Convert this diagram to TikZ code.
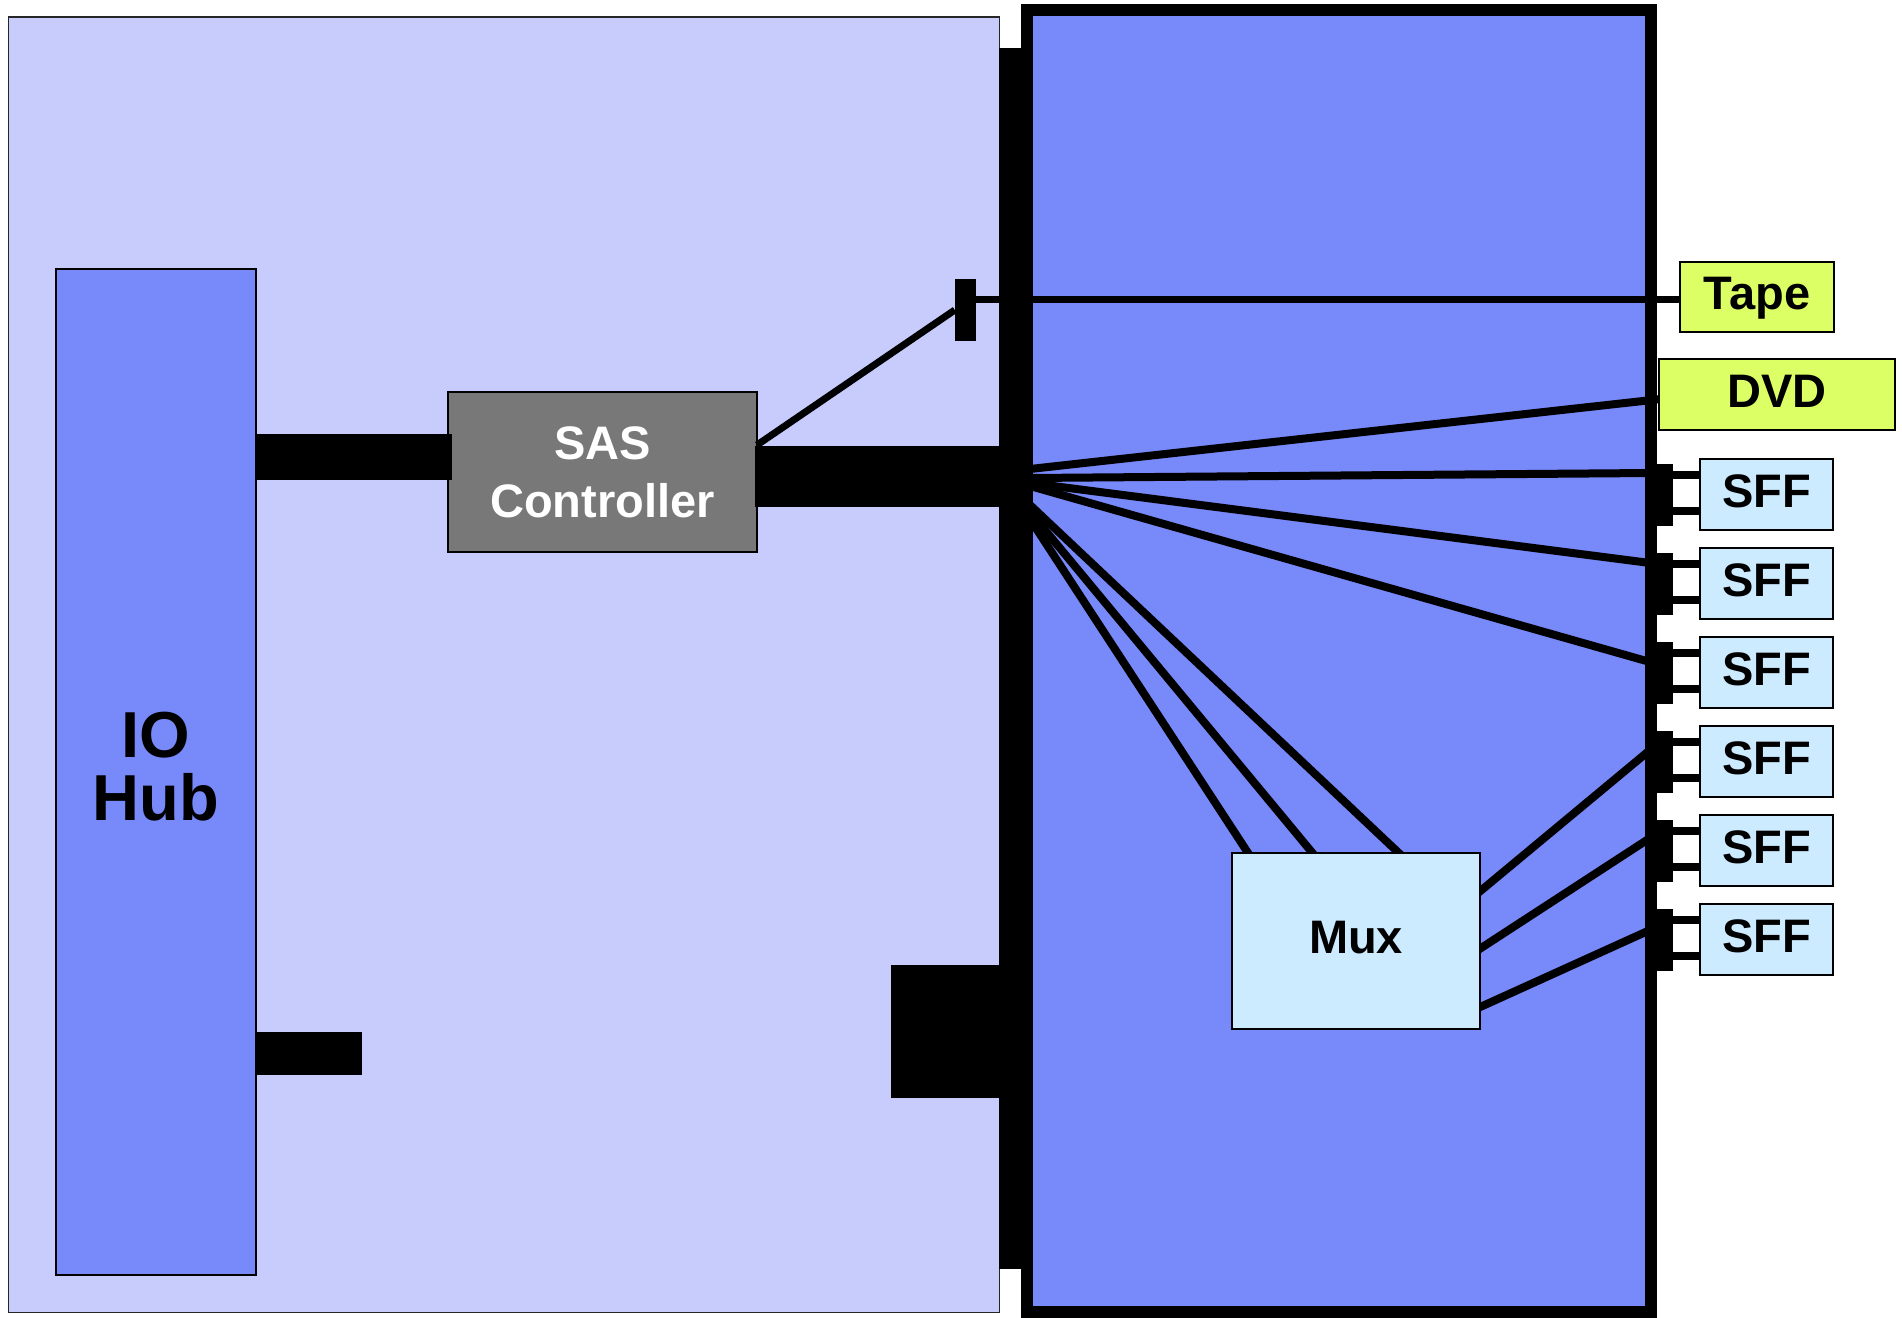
\documentclass[tikz,border=0pt]{standalone}
\usepackage{fontspec}
\setmainfont{Liberation Sans}
\definecolor{boardbg}{RGB}{199,204,252}
\definecolor{cardbg}{RGB}{120,137,250}
\definecolor{ctrlgray}{RGB}{120,120,120}
\definecolor{drivebg}{RGB}{221,255,102}
\definecolor{diskbg}{RGB}{204,235,255}
\begin{document}
\begin{tikzpicture}[x=1pt,y=-1pt,
  lbl/.style={draw=black, line width=2pt, inner sep=0pt, font=\fontsize{47}{55}\selectfont\bfseries, text height=34pt, text depth=9pt},
  sffbox/.style={lbl, fill=diskbg, minimum width=133pt, minimum height=71pt},
  drivebox/.style={lbl, fill=drivebg, line width=2.5pt},
  blob/.style={fill=black, inner sep=0pt, draw=none},
  wire/.style={line width=8pt},
  tapwire/.style={line width=7pt},
  stub/.style={line width=8pt}
]
\useasboundingbox (0,0) rectangle (1902,1317);

% main board
\draw[draw=black!85, line width=1.8pt, fill=boardbg] (8.5,17) rectangle (999.5,1312.5);

% IO hub
\node[draw=black, line width=2.5pt, fill=cardbg, minimum width=200pt, minimum height=1006pt, inner sep=0pt] (hub) at (156,772) {};
\node[align=center, inner sep=0pt, font=\fontsize{65}{63}\selectfont\bfseries] (hubtxt) at (156,767) {IO\\Hub};

% SAS controller
\node[draw=black, line width=2pt, fill=ctrlgray, text=white, minimum width=309pt, minimum height=160pt, inner sep=0pt, align=center, font=\fontsize{47}{58}\selectfont\bfseries] (sas) at (602.5,472) {SAS\\Controller};

% hub connector bars
\coordinate (hubA) at (256,457);
\coordinate (sasA) at (452,457);
\draw[line width=46pt] (hubA) -- (sasA);
\coordinate (hubB) at (256,1053.5);
\coordinate (hubBend) at (362,1053.5);
\draw[line width=43pt] (hubB) -- (hubBend);

% backplane card fill
\fill[cardbg] (1027,10) rectangle (1651,1312);

% fan-out wires
\coordinate (oDVD) at (1030,469);
\coordinate (oS1) at (1030,478);
\coordinate (oS2) at (1030,483);
\coordinate (oS3) at (1030,486);
\coordinate (oMa) at (1030,505);
\coordinate (oMb) at (1030,512);
\coordinate (oMc) at (1030,519);
\coordinate (dvdIn) at (1661,399);
\coordinate (eS1) at (1650,473);
\coordinate (eS2) at (1650,563);
\coordinate (eS3) at (1650,662);
\coordinate (muxA) at (1402,856);
\coordinate (muxB) at (1315,856);
\coordinate (muxC) at (1250,856);
\draw[wire] (oDVD) -- (dvdIn);
\draw[wire] (oS1) -- (eS1);
\draw[wire] (oS2) -- (eS2);
\draw[wire] (oS3) -- (eS3);
\draw[wire] (oMa) -- (muxA);
\draw[wire] (oMb) -- (muxB);
\draw[wire] (oMc) -- (muxC);

% mux outputs
\coordinate (m4) at (1478,893);
\coordinate (m5) at (1478,950);
\coordinate (m6) at (1478,1008);
\coordinate (eS4) at (1650,750);
\coordinate (eS5) at (1650,838);
\coordinate (eS6) at (1650,930);
\draw[wire] (m4) -- (eS4);
\draw[wire] (m5) -- (eS5);
\draw[wire] (m6) -- (eS6);

% tape wires
\node[blob, minimum width=21pt, minimum height=62pt] (tc) at (965.5,310) {};
\coordinate (sasTap) at (757,445);
\draw[tapwire] (sasTap) -- (tc.west);
\coordinate (tcOut) at (976,299);
\coordinate (tapeIn) at (1681,299);
\draw[tapwire] (tcOut) -- (tapeIn);

% mux
\node[lbl, fill=diskbg, minimum width=248pt, minimum height=176pt] (mux) at (1356,941) {Mux};

% card border
\draw[line width=12pt] (1027,10) rectangle (1651,1312);

% backplane connector and blocks
\node[blob, minimum width=22pt, minimum height=1221pt] (bp) at (1010,658.5) {};
\node[blob, minimum width=108pt, minimum height=133pt] (blk) at (945,1031.5) {};
\coordinate (sasB) at (755,476.5);
\draw[line width=61pt] (sasB) -- (bp.west |- sasB);

% drives
\node[drivebox, minimum width=154pt, minimum height=70pt] (tape) at (1757,297) {Tape};
\node[drivebox, minimum width=236pt, minimum height=71pt] (dvd) at (1777,394.5) {DVD};

% SFF disks
\foreach \c [count=\i] in {494.5,583.5,672.5,761.5,850.5,939.5} {
  \node[blob, minimum width=28pt, minimum height=62pt] (pad\i) at (1659,\c) {};
  \node[sffbox] (sff\i) at (1766.5,\c) {SFF};
  \draw[stub] ([yshift=20pt]pad\i.east) -- ([yshift=20pt]sff\i.west);
  \draw[stub] ([yshift=-16.5pt]pad\i.east) -- ([yshift=-16.5pt]sff\i.west);
}
\end{tikzpicture}
\end{document}
